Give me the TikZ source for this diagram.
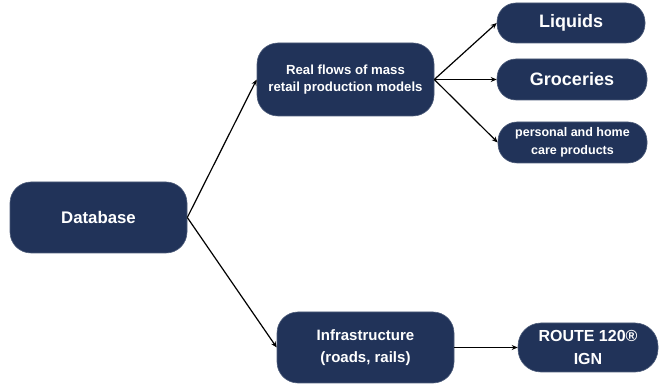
\documentclass[tikz,border=0pt]{standalone}
\usepackage{fontspec}
\setmainfont{Liberation Sans}
\usetikzlibrary{arrows.meta}
\definecolor{navy}{HTML}{213359}
\tikzset{
  box/.style={fill=navy, draw=navy!80!white, line width=0.6pt, text=white,
    rounded corners=21pt, align=center, inner sep=0pt,
    font=\bfseries},
  link/.style={draw=black, line width=1.2pt,
    -{Stealth[length=6pt,width=5pt]}}
}
\begin{document}
\begin{tikzpicture}[x=1pt,y=-1pt]
  \useasboundingbox (0,0) rectangle (659,387);
  \node[box, minimum width=177pt, minimum height=71pt,
        font=\bfseries\fontsize{16.8}{18}\selectfont] (db) at (98.5,217.5) {Database};
  \node[box, minimum width=177pt, minimum height=73pt,
        font=\bfseries\fontsize{13.2}{17}\selectfont] (flows) at (345.5,79.5)
        {Real flows of mass\\retail production models};
  \node[box, minimum width=148pt, minimum height=40pt, rounded corners=19pt,
        font=\bfseries\fontsize{18}{20}\selectfont] (liq) at (571,23) {Liquids};
  \node[box, minimum width=150pt, minimum height=41pt, rounded corners=19pt,
        font=\bfseries\fontsize{18}{20}\selectfont] (groc) at (572,79.5) {Groceries};
  \node[box, minimum width=149pt, minimum height=41pt, rounded corners=19pt,
        font=\bfseries\fontsize{12.5}{18}\selectfont] (care) at (572.5,142.5)
        {personal and home\\care products};
  \node[box, minimum width=177pt, minimum height=71pt,
        font=\bfseries\fontsize{15}{22}\selectfont] (infra) at (365.5,347.5)
        {Infrastructure\\(roads, rails)};
  \node[box, minimum width=140pt, minimum height=49pt, rounded corners=23pt,
        font=\bfseries\fontsize{16}{23}\selectfont] (route) at (588,347.5)
        {ROUTE 120®\\IGN};
  \draw[link] (db.east) -- (flows.west);
  \draw[link] (db.east) -- (infra.west);
  \draw[link] (flows.east) -- (liq.west);
  \draw[link] (flows.east) -- (groc.west);
  \draw[link] (flows.east) -- (care.west);
  \draw[link] (infra.east) -- (route.west);
\end{tikzpicture}
\end{document}
